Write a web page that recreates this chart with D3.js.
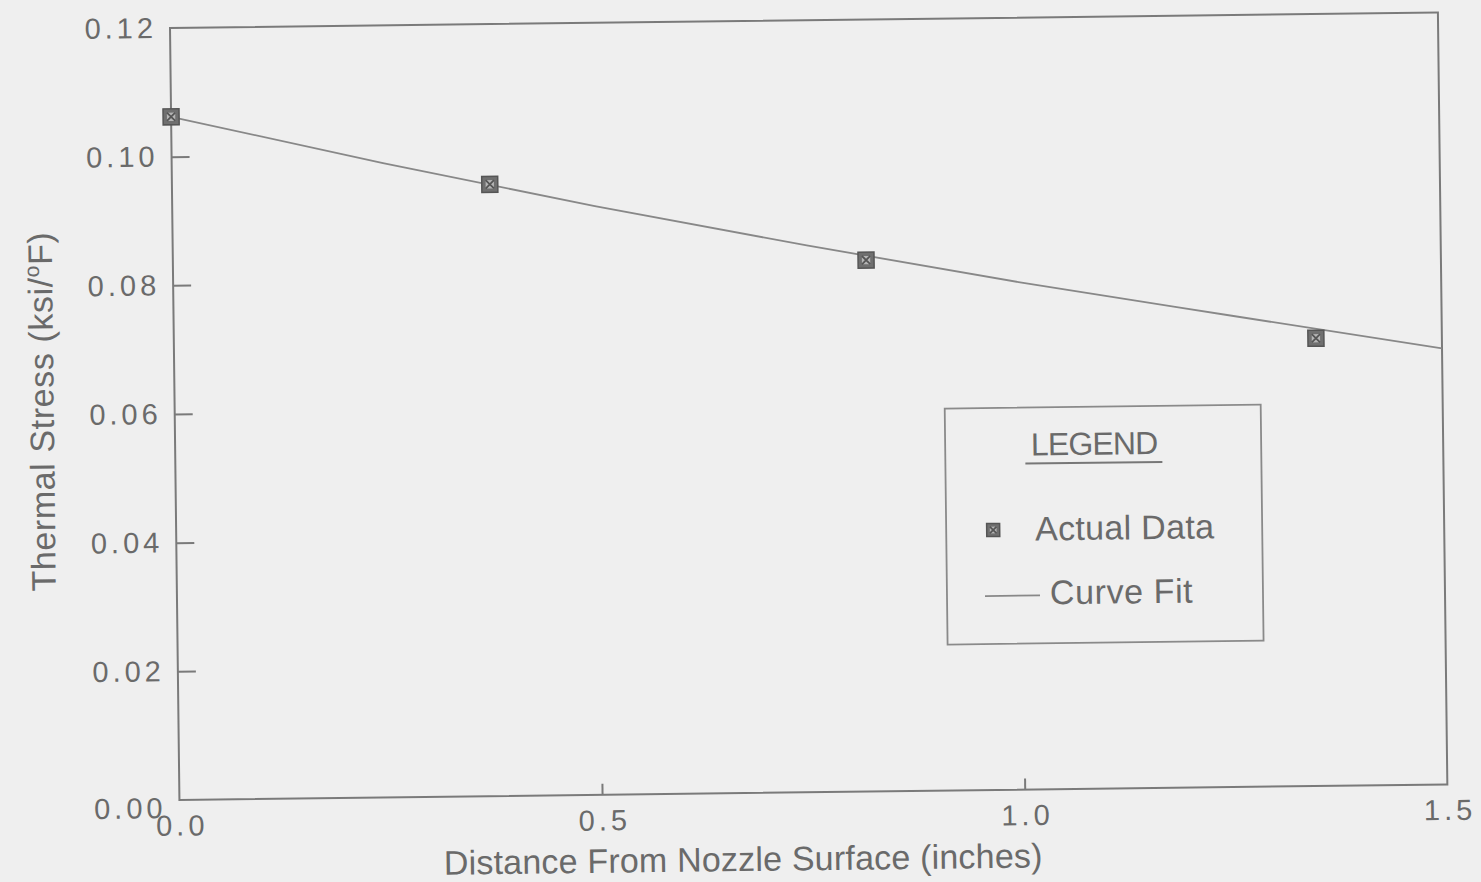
<!DOCTYPE html>
<html>
<head>
<meta charset="utf-8">
<script src="https://cdn.jsdelivr.net/npm/d3@7"></script>
<style>
  html, body { margin: 0; padding: 0; background: #efefef; }
  svg { display: block; }
  text { font-family: "Liberation Sans", Arial, sans-serif; fill: #6a6a6a; }
</style>
</head>
<body>
<svg id="chart" width="1481" height="882"></svg>
<script>
// Measured thermal stress vs. depth below the nozzle surface
const dataX = [0.0, 0.376, 0.820, 1.351];
const dataY = [0.1062, 0.0951, 0.0826, 0.0696];

// Fitted curve, sampled along the distance axis
const fitX = [0.0, 0.25, 0.5, 0.75, 1.0, 1.25, 1.5];
const fitY = [0.1062, 0.0986, 0.0915, 0.0850, 0.0789, 0.0733, 0.0678];

const xTicks = [0.0, 0.5, 1.0, 1.5];
const yTicks = [0.00, 0.02, 0.04, 0.06, 0.08, 0.10, 0.12];

const legendItems = ["Actual Data", "Curve Fit"];

const W = 1268, H = 772;
const ink = "#7a7a7a";

const svg = d3.select("#chart");
svg.append("rect").attr("width", 1481).attr("height", 882).attr("fill", "#efefef");

// Whole plot sits slightly tilted on the page
const g = svg.append("g").attr("transform", "translate(170,28) rotate(-0.7)");

const x = d3.scaleLinear().domain([0, 1.5]).range([0, W]);
const y = d3.scaleLinear().domain([0, 0.12]).range([H, 0]);

// Frame
g.append("rect").attr("width", W).attr("height", H)
  .attr("fill", "none").attr("stroke", ink).attr("stroke-width", 2);

// Y axis: ticks point into the plot
const yAxis = g.append("g")
  .call(d3.axisLeft(y).tickValues(yTicks).tickSize(-18).tickSizeOuter(0).tickPadding(13).tickFormat(d3.format(".2f")));
yAxis.select(".domain").remove();
yAxis.selectAll(".tick line").attr("stroke", ink).attr("stroke-width", 2)
  .filter(d => d === 0 || d === 0.12).remove();
yAxis.selectAll(".tick text")
  .attr("font-size", 29).attr("letter-spacing", 4).attr("fill", "#6a6a6a")
  .attr("font-family", "'Liberation Sans', Arial, sans-serif")
  .attr("dy", d => d === 0 ? "0.6em" : "0.32em");

// X axis: ticks point up into the plot
const xAxis = g.append("g").attr("transform", `translate(0,${H})`)
  .call(d3.axisBottom(x).tickValues(xTicks).tickSize(-11).tickSizeOuter(0).tickPadding(15).tickFormat(d3.format(".1f")));
xAxis.select(".domain").remove();
xAxis.selectAll(".tick line").attr("stroke", ink).attr("stroke-width", 2)
  .filter(d => d === 0 || d === 1.5).remove();
xAxis.selectAll(".tick text")
  .attr("font-size", 29).attr("letter-spacing", 4).attr("fill", "#6a6a6a")
  .attr("font-family", "'Liberation Sans', Arial, sans-serif")
  .attr("dx", 2)
  .attr("dy", "0.71em");

// Axis titles
g.append("text")
  .attr("x", 563).attr("y", 850)
  .attr("text-anchor", "middle")
  .attr("font-size", 34).attr("letter-spacing", 0.2)
  .text("Distance From Nozzle Surface (inches)");

const yt = g.append("text")
  .attr("transform", "translate(-121,382) rotate(-90)")
  .attr("text-anchor", "middle")
  .attr("font-size", 34).attr("letter-spacing", 0.6);
yt.append("tspan").text("Thermal Stress (ksi/");
yt.append("tspan").attr("dy", -13).attr("font-size", 21).text("o");
yt.append("tspan").attr("dy", 13).text("F)");

// Curve fit
const line = d3.line().x(d => x(d[0])).y(d => y(d[1])).curve(d3.curveMonotoneX);
g.append("path")
  .datum(fitX.map((v, i) => [v, fitY[i]]))
  .attr("d", line)
  .attr("fill", "none").attr("stroke", "#888").attr("stroke-width", 1.8);

// Data marker: dark boxed square with a light crossed centre
function marker(sel, s) {
  sel.append("rect").attr("x", -s / 2).attr("y", -s / 2).attr("width", s).attr("height", s)
    .attr("fill", "#6f6f6f").attr("stroke", "#555").attr("stroke-width", 1.5);
  sel.append("rect").attr("x", -s * 0.26).attr("y", -s * 0.26).attr("width", s * 0.52).attr("height", s * 0.52)
    .attr("fill", "#b5b5b5");
  sel.append("path")
    .attr("d", `M${-s * 0.26},${-s * 0.26}L${s * 0.26},${s * 0.26}M${s * 0.26},${-s * 0.26}L${-s * 0.26},${s * 0.26}`)
    .attr("stroke", "#555").attr("stroke-width", 1.8);
}

g.selectAll("g.pt")
  .data(dataX.map((v, i) => [v, dataY[i]]))
  .join("g").attr("class", "pt")
  .attr("transform", d => `translate(${x(d[0])},${y(d[1])})`)
  .each(function () { marker(d3.select(this), 16); });

// Legend
const lg = g.append("g").attr("transform", "translate(770,390)");
lg.append("rect").attr("width", 316).attr("height", 236)
  .attr("fill", "none").attr("stroke", "#8a8a8a").attr("stroke-width", 1.8);
lg.append("text").attr("x", 149).attr("y", 48).attr("text-anchor", "middle")
  .attr("font-size", 32).attr("letter-spacing", -0.8).text("LEGEND");
lg.append("line").attr("x1", 80).attr("x2", 217).attr("y1", 56).attr("y2", 56)
  .attr("stroke", "#777").attr("stroke-width", 2);

const m = lg.append("g").attr("transform", "translate(47,122)");
marker(m, 13);
lg.append("text").attr("x", 89).attr("y", 133).attr("font-size", 34).attr("letter-spacing", 0.3).text(legendItems[0]);

lg.append("line").attr("x1", 38).attr("x2", 93).attr("y1", 188).attr("y2", 188)
  .attr("stroke", "#888").attr("stroke-width", 1.8);
lg.append("text").attr("x", 103).attr("y", 197).attr("font-size", 34).attr("letter-spacing", 0.6).text(legendItems[1]);
</script>
</body>
</html>
